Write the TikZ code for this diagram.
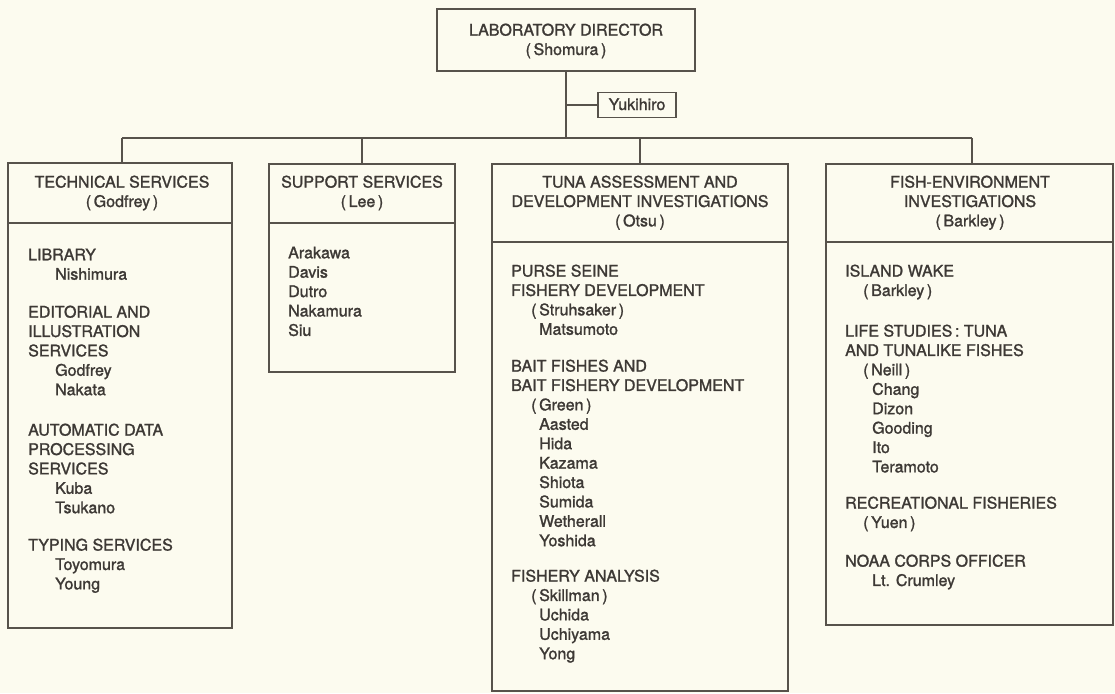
\documentclass[tikz,border=0pt]{standalone}
\usepackage{fontspec}
\setmainfont{TeX Gyre Heros}[FakeBold=1.4]
\definecolor{ink}{HTML}{3D3935}
\definecolor{rule}{HTML}{57524B}
\definecolor{paper}{HTML}{FCFBEF}
\begin{document}
\begin{tikzpicture}[x=1pt,y=-1pt,
  box/.style={draw=rule, line width=1.6pt, rectangle, inner sep=0pt},
  conn/.style={draw=rule, line width=1.6pt},
  txt/.style={text=ink, inner sep=0pt, font=\fontsize{16}{19.4}\selectfont},
  head/.style={txt, align=center, anchor=north, yshift=13.58pt, execute at begin node=\strut},
  grp/.style={txt, align=left, anchor=north west, yshift=13.58pt, execute at begin node=\strut}]
\fill[paper] (0,0) rectangle (1115,693);
\useasboundingbox (0,0) rectangle (1115,693);
% boxes
\node[box, minimum width=258pt, minimum height=62pt] (dir) at (566,40) {};
\node[box, minimum width=78pt, minimum height=25pt] (yuk) at (637,105) {};
\node[box, minimum width=224pt, minimum height=465pt] (tech) at (120,395.5) {};
\node[box, minimum width=186pt, minimum height=208pt] (supp) at (362,268) {};
\node[box, minimum width=296pt, minimum height=527pt] (tuna) at (640,427.5) {};
\node[box, minimum width=287pt, minimum height=461pt] (fish) at (969.5,394.5) {};
% connectors
\coordinate (busL) at (122,138);
\coordinate (busR) at (972,138);
\coordinate (dropS) at (362,138);
\coordinate (dropT) at (640,138);
\draw[conn] (dir.south) -- (dir.south |- busL);
\draw[conn] (dir.south |- yuk.west) -- (yuk.west);
\draw[conn] (busL) -- (busR);
\draw[conn] (busL) -- (busL |- tech.north);
\draw[conn] (dropS) -- (dropS |- supp.north);
\draw[conn] (dropT) -- (dropT |- tuna.north);
\draw[conn] (busR) -- (busR |- fish.north);
% header dividers
\draw[conn] (tech.west |- 0,223) -- (tech.east |- 0,223);
\draw[conn] (supp.west |- 0,223) -- (supp.east |- 0,223);
\draw[conn] (tuna.west |- 0,242) -- (tuna.east |- 0,242);
\draw[conn] (fish.west |- 0,242) -- (fish.east |- 0,242);
% header texts
\node[head] (dirt) at (566,37) {LABORATORY DIRECTOR\\(\,Shomura\,)};
\node[txt, anchor=base] (yukt) at (637,110) {Yukihiro};
\node[head] (techt) at (122,189) {TECHNICAL SERVICES\\(\,Godfrey\,)};
\node[head] (suppt) at (362,189) {SUPPORT SERVICES\\(\,Lee\,)};
\node[head] (tunat) at (640,189) {TUNA ASSESSMENT AND\\DEVELOPMENT INVESTIGATIONS\\(\,Otsu\,)};
\node[head] (fisht) at (970,189) {FISH-ENVIRONMENT\\INVESTIGATIONS\\(\,Barkley\,)};
% technical services body
\node[grp] (t1) at (28,262) {LIBRARY\\\hspace*{27pt}Nishimura};
\node[grp] (t2) at (28,319) {EDITORIAL AND\\ILLUSTRATION\\SERVICES\\\hspace*{27pt}Godfrey\\\hspace*{27pt}Nakata};
\node[grp] (t3) at (28,437) {AUTOMATIC DATA\\PROCESSING\\SERVICES\\\hspace*{27pt}Kuba\\\hspace*{27pt}Tsukano};
\node[grp] (t4) at (28,552) {TYPING SERVICES\\\hspace*{27pt}Toyomura\\\hspace*{27pt}Young};
% support body
\node[grp] (s1) at (288,260) {Arakawa\\Davis\\Dutro\\Nakamura\\Siu};
% tuna body
\node[grp] (u1) at (511,278) {PURSE SEINE\\FISHERY DEVELOPMENT\\\hspace*{20pt}(\,Struhsaker\,)\\\hspace*{28pt}Matsumoto};
\node[grp] (u2) at (511,373) {BAIT FISHES AND\\BAIT FISHERY DEVELOPMENT\\\hspace*{20pt}(\,Green\,)\\\hspace*{28pt}Aasted\\\hspace*{28pt}Hida\\\hspace*{28pt}Kazama\\\hspace*{28pt}Shiota\\\hspace*{28pt}Sumida\\\hspace*{28pt}Wetherall\\\hspace*{28pt}Yoshida};
\node[grp] (u3) at (511,583) {FISHERY ANALYSIS\\\hspace*{20pt}(\,Skillman\,)\\\hspace*{28pt}Uchida\\\hspace*{28pt}Uchiyama\\\hspace*{28pt}Yong};
% fish body
\node[grp] (f1) at (845,278) {ISLAND WAKE\\\hspace*{18pt}(\,Barkley\,)};
\node[grp] (f2) at (845,338) {LIFE STUDIES\,: TUNA\\AND TUNALIKE FISHES\\\hspace*{18pt}(\,Neill\,)\\\hspace*{27pt}Chang\\\hspace*{27pt}Dizon\\\hspace*{27pt}Gooding\\\hspace*{27pt}Ito\\\hspace*{27pt}Teramoto};
\node[grp] (f3) at (845,510) {RECREATIONAL FISHERIES\\\hspace*{18pt}(\,Yuen\,)};
\node[grp] (f4) at (845,568) {NOAA CORPS OFFICER\\\hspace*{27pt}Lt. Crumley};
\end{tikzpicture}
\end{document}
